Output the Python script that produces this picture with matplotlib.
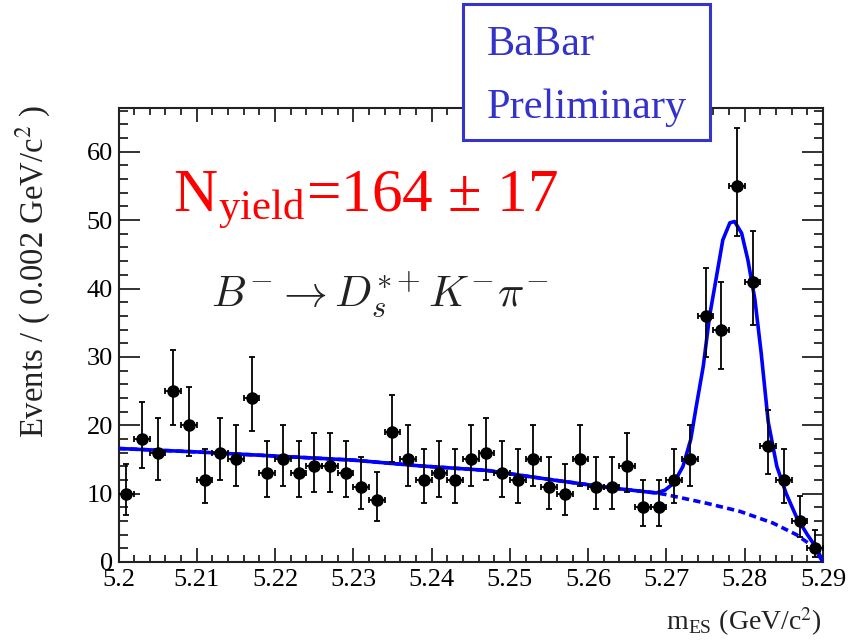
import numpy as np
import matplotlib
matplotlib.use("Agg")
import matplotlib.pyplot as plt
from matplotlib.patches import Rectangle
from matplotlib.ticker import MultipleLocator

plt.rcParams['font.family'] = ['Liberation Serif', 'DejaVu Serif']
plt.rcParams['mathtext.fontset'] = 'stix'

# m_ES bins (0.002 GeV wide) and event counts
bin_centers = [5.201, 5.203, 5.205, 5.207, 5.209, 5.211, 5.213, 5.215, 5.217, 5.219,
               5.221, 5.223, 5.225, 5.227, 5.229, 5.231, 5.233, 5.235, 5.237, 5.239,
               5.241, 5.243, 5.245, 5.247, 5.249, 5.251, 5.253, 5.255, 5.257, 5.259,
               5.261, 5.263, 5.265, 5.267, 5.269, 5.271, 5.273, 5.275, 5.277, 5.279,
               5.281, 5.283, 5.285, 5.287, 5.289]
counts = [10, 18, 16, 25, 20, 12, 16, 15, 24, 13,
          15, 13, 14, 14, 13, 11, 9, 19, 15, 12,
          13, 12, 15, 16, 13, 12, 15, 11, 10, 15,
          11, 11, 14, 8, 8, 12, 15, 36, 34, 55,
          41, 17, 12, 6, 2]

# fit curves
total_x = [5.200, 5.210, 5.220, 5.230, 5.2385, 5.247, 5.2555, 5.260, 5.264, 5.2687,
           5.2698, 5.2709, 5.2721, 5.2731, 5.2738, 5.2747, 5.2755, 5.2764, 5.2772, 5.2781,
           5.2787, 5.2796, 5.2804, 5.2813, 5.2821, 5.2830, 5.2841, 5.2853, 5.2866, 5.2880,
           5.2892, 5.2900]
total_y = [16.6, 16.1, 15.5, 14.9, 14.06, 13.4, 12.0, 11.3, 10.7, 10.1,
           10.5, 11.5, 13.95, 17.9, 22.7, 28.6, 35.9, 41.8, 47.1, 49.6,
           49.8, 48.1, 44.2, 38.4, 30.6, 20.5, 14.0, 10.0, 6.6, 4.0,
           2.0, 0.0]
bkg_x = [5.200, 5.210, 5.220, 5.230, 5.2385, 5.247, 5.2555, 5.260, 5.264, 5.2687,
         5.2700, 5.2751, 5.2794, 5.2836, 5.2866, 5.2887, 5.2900]
bkg_y = [16.6, 16.1, 15.5, 14.9, 14.06, 13.4, 12.0, 11.3, 10.7, 10.1,
         9.85, 8.6, 7.4, 5.7, 4.0, 2.3, 0.0]

xticks = [5.2, 5.21, 5.22, 5.23, 5.24, 5.25, 5.26, 5.27, 5.28, 5.29]
xticklabels = ['5.2', '5.21', '5.22', '5.23', '5.24', '5.25', '5.26', '5.27', '5.28', '5.29']
yticks = [0, 10, 20, 30, 40, 50, 60]
yticklabels = ['0', '10', '20', '30', '40', '50', '60']

n = np.array(counts, dtype=float)
# asymmetric Poisson errors (Gehrels approximation)
err_up = np.sqrt(n + 0.75) + 1
err_lo = n - n * (1 - 1 / (9 * n) - 1 / (3 * np.sqrt(n))) ** 3

W, H = 857, 643
fig = plt.figure(figsize=(W / 100, H / 100), dpi=100)
ax = fig.add_axes([118.5 / W, 1 - 562 / H, (823 - 118.5) / W, (562 - 108) / H])

ax.plot(bkg_x, bkg_y, color='#0000ff', lw=2.6, ls=(0, (2.0, 1.2)), zorder=2)
ax.plot(total_x, total_y, color='#0000ff', lw=2.6, zorder=3)
ax.errorbar(bin_centers, counts, yerr=[err_lo, err_up], xerr=0.001, fmt='o',
            color='black', ms=8, elinewidth=1.3, capsize=2.5, capthick=1.3, zorder=4)

ax.set_xlim(5.2, 5.29)
ax.set_ylim(0, 66.4)
ax.set_xticks(xticks, xticklabels)
ax.set_yticks(yticks, yticklabels)
ax.xaxis.set_minor_locator(MultipleLocator(0.002))
ax.yaxis.set_minor_locator(MultipleLocator(2))
ax.tick_params(axis='both', which='both', direction='in', top=True, right=True,
               labelsize=19, width=1.3, color='#222222')
ax.tick_params(axis='x', which='major', length=10, pad=5)
ax.tick_params(axis='x', which='minor', length=5)
ax.tick_params(axis='y', which='major', length=15, pad=4)
ax.tick_params(axis='y', which='minor', length=6.5)
for s in ax.spines.values():
    s.set_linewidth(1.5)
    s.set_color('#222222')

fig.text(33 / W, 1 - 271 / H, 'Events / ( 0.002 GeV/c$^{2}$ )', rotation=90,
         ha='center', va='center', fontsize=23.5, color='#222222')
fig.text(822 / W, 1 - 630 / H, r'm$_{\mathregular{ES}}$ (GeV/c$^{2}$)',
         ha='right', va='baseline', fontsize=20, color='#222222')

fig.text(173 / W, 1 - 212 / H, r'N$_{\mathregular{yield}}$=164 ± 17',
         ha='left', va='baseline', fontsize=44, color='#ff0000')
fig.text(211 / W, 1 - 307 / H, r'$B^{-}\rightarrow D_{s}^{*+}K^{-}\pi^{-}$',
         ha='left', va='baseline', fontsize=31.5, color='#222222', math_fontfamily='cm')

box = Rectangle((463 / W, 1 - 140 / H), (710 - 463) / W, (140 - 4) / H,
                transform=fig.transFigure, facecolor='white', edgecolor='#3535cc',
                lw=2.2, zorder=10)
fig.add_artist(box)
fig.text(487 / W, 1 - 55 / H, 'BaBar', ha='left', va='baseline', fontsize=30.5,
         color='#3333cc', zorder=11)
fig.text(487 / W, 1 - 118 / H, 'Preliminary', ha='left', va='baseline', fontsize=30.5,
         color='#3333cc', zorder=11)

fig.savefig('out.png', dpi=100)
